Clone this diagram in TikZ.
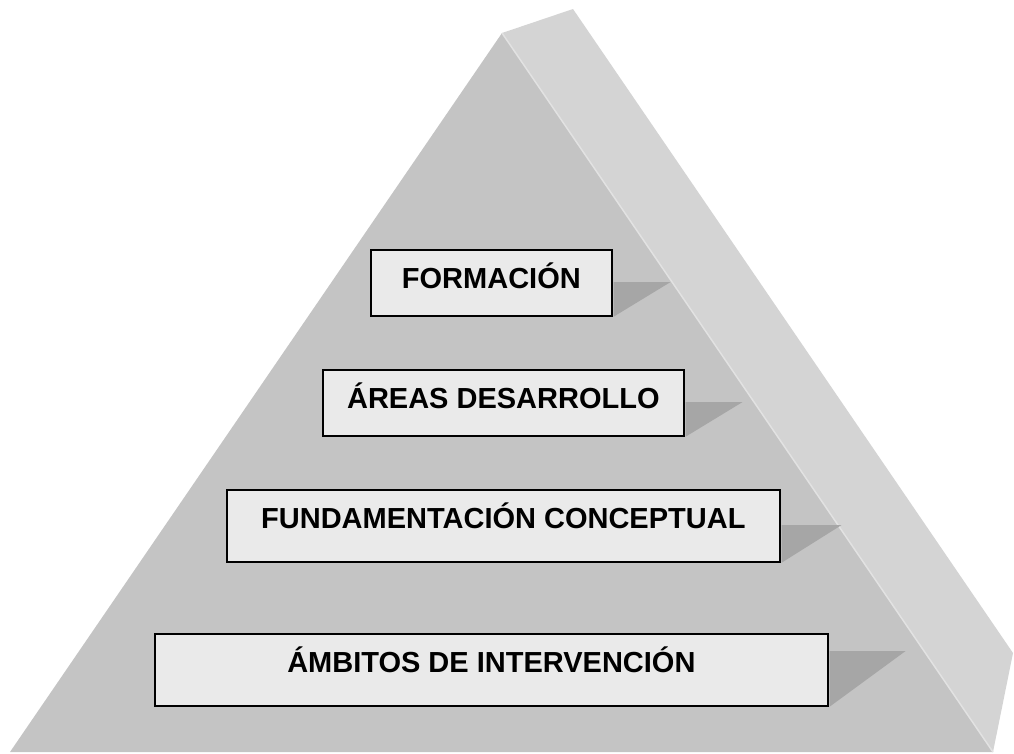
\documentclass[tikz,border=0pt]{standalone}
\usepackage{fontspec}
\setmainfont{Liberation Sans}
\usepackage{tikz}
\usetikzlibrary{calc}

\definecolor{frontgray}{HTML}{C4C4C4}
\definecolor{sidegray}{HTML}{D4D4D4}
\definecolor{edgegray}{HTML}{E2E2E2}
\definecolor{dropgray}{HTML}{A6A6A6}
\definecolor{tierfill}{HTML}{EAEAEA}

\begin{document}
\begin{tikzpicture}[
  x=1pt, y=-1pt,
  font=\fontsize{29}{32}\selectfont\bfseries,
  tier/.style={draw=black, fill=tierfill, line width=1.7pt, inner sep=0pt,
    anchor=north west, text height=21pt, text depth=9pt},
  lowtier/.style={tier, text depth=15pt}
]
  \useasboundingbox (0,0) rectangle (1014,753);
  % pyramid faces
  \fill[sidegray] (502,33) -- (573,9) -- (1013,653) -- (993,752) -- cycle;
  \fill[frontgray] (502,33) -- (993,752) -- (10,752) -- cycle;
  \draw[edgegray, line width=1.5pt] (502,33) -- (993,752);
  % tiers
  \node[tier, minimum width=241pt, minimum height=66pt] (form) at (370,249) {FORMACIÓN};
  \node[tier, minimum width=361pt, minimum height=66pt] (areas) at (322,369) {ÁREAS DESARROLLO};
  \node[lowtier, minimum width=553pt, minimum height=72pt] (fund) at (226,489) {FUNDAMENTACIÓN CONCEPTUAL};
  \node[lowtier, minimum width=673pt, minimum height=72pt] (amb) at (154,633) {ÁMBITOS DE INTERVENCIÓN};
  % drop shadows
  \foreach \t/\dy/\dx in {form/33/57, areas/33/57, fund/36/60, amb/18/76}
    \fill[dropgray] ($(\t.north east)+(0.9,\dy)$) -- ++(\dx,0) -- ($(\t.south east)+(0.9,0)$) -- cycle;
\end{tikzpicture}
\end{document}
